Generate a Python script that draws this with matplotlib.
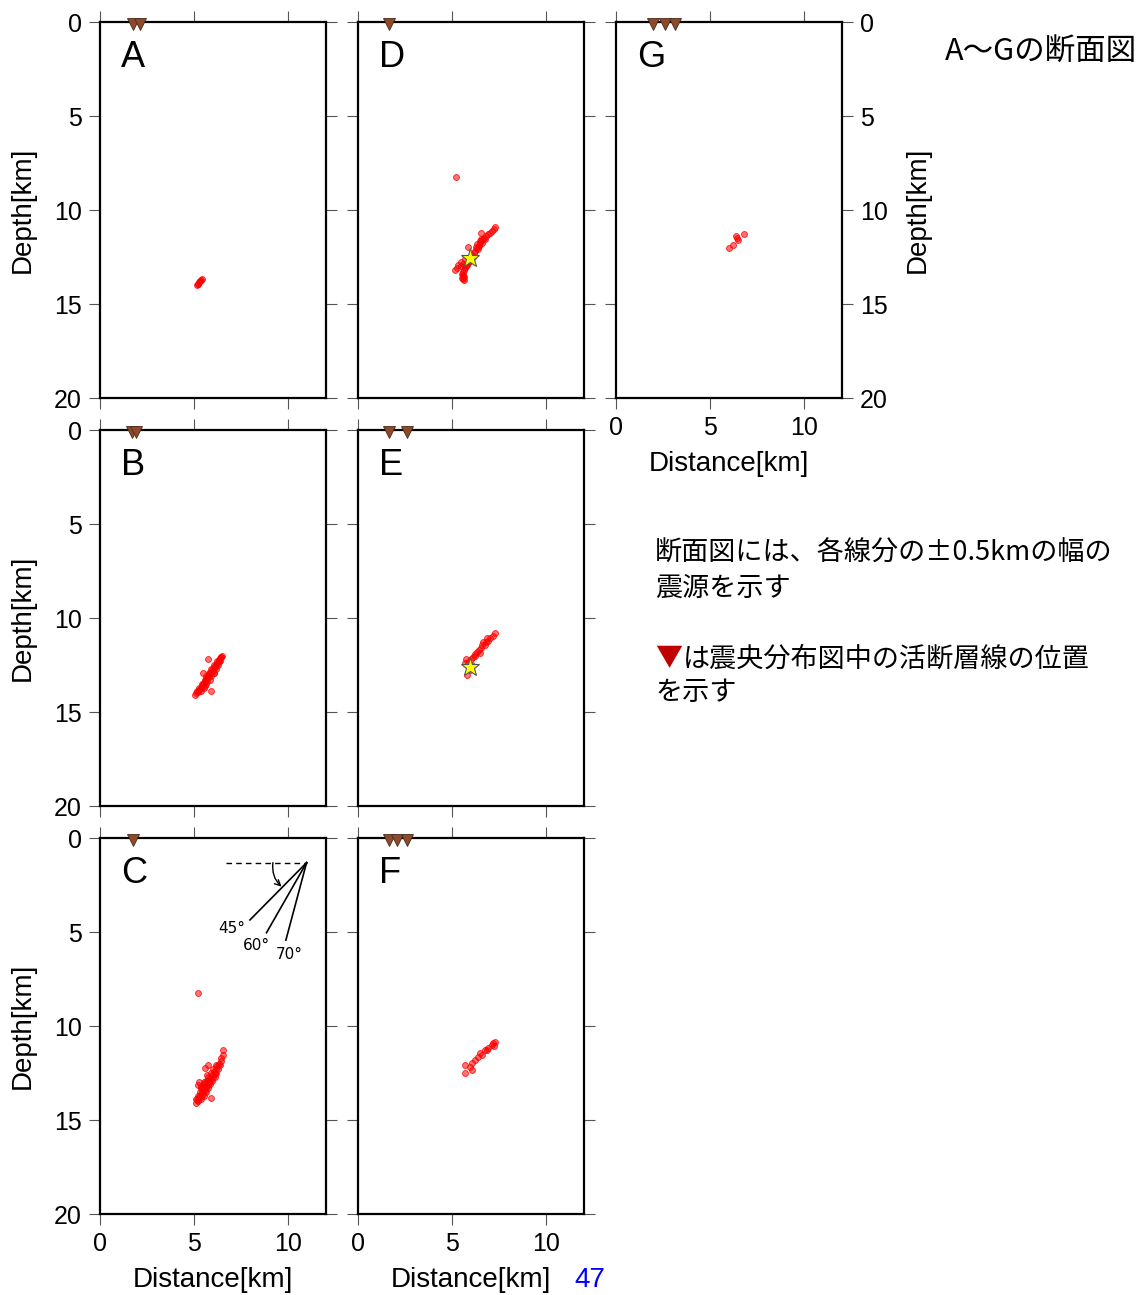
import matplotlib.pyplot as plt

plt.rcParams['font.family'] = ['Liberation Sans', 'Noto Sans CJK JP', 'DejaVu Sans']

# ---------- hypocenters: distance [km], depth [km] ----------
A_x = [5.15, 5.2, 5.25, 5.3, 5.35, 5.22, 5.32, 5.4]
A_d = [13.98, 13.92, 13.85, 13.78, 13.72, 13.95, 13.8, 13.68]

B_x = [5.05, 5.12, 5.2, 5.28, 5.36, 5.4, 5.45, 5.32, 5.55, 5.68, 5.5, 5.8, 5.85, 5.62,
       5.95, 6.0, 5.78, 6.1, 6.15, 5.95, 6.2, 6.25, 6.1, 6.3, 6.32, 6.38, 6.42, 6.45, 6.47,
       5.92, 5.73, 5.47, 5.7, 5.55, 5.88, 6.05,
       5.15, 5.38, 5.28, 5.5, 5.4, 5.65, 5.55, 5.82, 5.65, 5.92, 5.78, 6.05, 5.92, 6.15,
       6.05, 6.25, 6.2, 6.35]
B_d = [14.12, 14.0, 13.95, 13.85, 13.7, 13.6, 13.5, 13.75, 13.35, 13.2, 13.45, 13.1, 12.95,
       13.25, 12.85, 12.7, 13.0, 12.6, 12.5, 12.75, 12.45, 12.35, 12.55, 12.3, 12.25, 12.15,
       12.1, 12.05, 12.0, 13.87, 12.2, 12.9, 13.35, 13.6, 12.95, 12.9,
       13.9, 13.9, 13.7, 13.7, 13.5, 13.5, 13.3, 13.3, 13.1, 13.1, 12.9, 12.9, 12.7, 12.7,
       12.5, 12.5, 12.3, 12.3]

C_x = [6.54, 6.51, 6.45, 6.4, 6.3, 6.22, 6.15, 6.05, 5.95, 6.1, 5.85, 6.0, 5.75, 5.9, 5.65,
       5.8, 5.6, 5.75, 5.5, 5.65, 5.4, 5.55, 5.3, 5.45, 5.25, 5.35, 5.15, 5.09, 5.2, 5.2,
       5.89, 5.57, 5.73, 5.2, 5.5, 5.35, 5.7,
       5.12, 5.35, 5.22, 5.5, 5.3, 5.62, 5.42, 5.75, 5.5, 5.85, 5.62, 5.95, 5.75, 6.08,
       5.9, 6.15, 6.02, 6.25, 6.15, 6.35, 5.28, 5.35]
C_d = [11.28, 11.55, 11.7, 11.85, 12.0, 12.15, 12.3, 12.45, 12.6, 12.55, 12.75, 12.7, 12.9,
       12.85, 13.05, 13.0, 13.2, 13.15, 13.35, 13.3, 13.5, 13.45, 13.65, 13.6, 13.8, 13.75,
       13.95, 14.1, 14.0, 13.14, 13.83, 12.23, 12.07, 8.24, 13.0, 13.3, 12.6,
       13.9, 13.9, 13.7, 13.7, 13.5, 13.5, 13.3, 13.3, 13.1, 13.1, 12.9, 12.9, 12.7, 12.7,
       12.5, 12.5, 12.3, 12.3, 12.1, 12.1, 13.0, 13.2]

D_x = [7.27, 7.2, 7.1, 7.0, 6.9, 6.8, 6.7, 6.6, 6.5, 6.46, 6.4, 6.3, 6.35, 6.2, 6.15, 6.05,
       6.1, 6.0, 5.95, 5.9, 5.85, 5.8, 5.75, 5.7, 5.65, 5.6, 5.55, 5.62, 5.57, 5.5, 5.15,
       5.32, 6.51, 5.85, 5.25, 5.2, 5.45,
       6.55, 6.3, 6.25, 6.45, 5.7, 5.55, 5.45, 5.6, 5.5, 5.62, 6.6, 6.75]
D_d = [10.89, 11.0, 11.1, 11.24, 11.3, 11.4, 11.5, 11.6, 11.65, 11.75, 11.85, 12.0, 12.1,
       12.2, 12.3, 12.4, 12.5, 12.55, 12.7, 12.6, 12.8, 12.9, 13.0, 13.1, 13.2, 13.3, 13.45,
       13.55, 13.65, 13.4, 13.19, 12.93, 11.24, 11.95, 13.1, 8.24, 12.75,
       11.55, 11.8, 11.95, 11.9, 12.6, 12.85, 13.0, 13.5, 13.6, 13.7, 11.75, 11.55]

E_x = [7.27, 7.15, 7.0, 6.9, 6.8, 6.74, 6.65, 6.55, 6.47, 6.3, 6.2, 6.12, 6.0, 5.85, 5.7,
       5.79, 6.05, 5.95, 6.6, 6.4, 6.85, 6.2, 5.75]
E_d = [10.82, 10.95, 11.08, 11.2, 11.3, 11.44, 11.26, 11.6, 11.88, 11.79, 12.0, 12.06,
       12.2, 12.35, 12.41, 13.03, 12.5, 12.75, 11.45, 11.7, 11.05, 11.9, 12.2]

F_x = [7.27, 7.09, 6.91, 6.56, 6.21, 6.03, 5.94, 5.68, 5.68, 6.03, 6.74, 6.38, 7.18, 6.85,
       7.2, 6.5]
F_d = [10.83, 11.01, 11.19, 11.54, 11.81, 11.98, 12.16, 12.52, 12.07, 12.34, 11.28, 11.63,
       10.9, 11.3, 11.05, 11.45]

G_x = [6.0, 6.2, 6.47, 6.37, 6.79, 6.42]
G_d = [12.02, 11.86, 11.6, 11.38, 11.28, 11.5]

# active fault positions on each section [km]
faults = {'A': [1.75, 2.1], 'B': [1.7, 1.9], 'C': [1.75], 'D': [1.64],
          'E': [1.64, 2.6], 'F': [1.64, 2.07, 2.6], 'G': [1.96, 2.6, 3.13]}

# mainshock (distance, depth)
star_D = (5.94, 12.54)
star_E = (5.93, 12.59)

quakes = {'A': (A_x, A_d), 'B': (B_x, B_d), 'C': (C_x, C_d), 'D': (D_x, D_d),
          'E': (E_x, E_d), 'F': (F_x, F_d), 'G': (G_x, G_d)}
stars = {'D': star_D, 'E': star_E}

# ---------- layout (pixel positions of each panel) ----------
W, H = 1145, 1295
aw, ah = 226, 376
corners = {'A': (100, 22), 'B': (100, 430), 'C': (100, 838),
           'D': (358, 22), 'E': (358, 430), 'F': (358, 838), 'G': (616, 22)}

fig = plt.figure(figsize=(W / 100, H / 100), dpi=100)

for name, (px, py) in corners.items():
    ax = fig.add_axes([px / W, 1 - (py + ah) / H, aw / W, ah / H])
    xs, ds = quakes[name]
    ax.scatter(xs, ds, s=18, facecolor=(1, 0, 0, 0.55), edgecolor=(1, 0, 0, 0.85),
               linewidth=0.6, zorder=3)
    if name in stars:
        sx, sd = stars[name]
        ax.plot(sx, sd, marker='*', ms=14, mfc='#ffff00', mec='#555555', mew=0.8, zorder=4)
    ax.plot(faults[name], [0.1] * len(faults[name]), linestyle='none', marker='v', ms=9,
            mfc='#8c4a2a', mec='#4a2a18', mew=0.6, clip_on=False, zorder=5)

    ax.set_xlim(0, 12)
    ax.set_ylim(20, 0)
    ax.set_xticks([0, 5, 10])
    ax.set_yticks([0, 5, 10, 15, 20])
    for sp in ax.spines.values():
        sp.set_linewidth(1.6)
    ax.tick_params(direction='out', length=8, width=0.8, color='#555555', labelsize=18,
                   top=True, right=True, left=True, bottom=True, pad=5,
                   labelleft=name in 'ABC', labelright=name == 'G',
                   labelbottom=name in 'CFG')
    if name in 'ABC':
        ax.set_ylabel('Depth[km]', fontsize=20, labelpad=13)
    if name == 'G':
        ax.yaxis.set_label_position('right')
        ax.set_ylabel('Depth[km]', fontsize=20, labelpad=12)
    if name in 'CFG':
        ax.set_xlabel('Distance[km]', fontsize=20, labelpad=8)
    ax.text(1.1, 1.9, name, fontsize=26, ha='left', va='center')

    if name == 'C':
        # dip angle guide
        ax.plot([6.68, 10.97], [1.31, 1.31], color='black', lw=1, ls=(0, (4, 3)))
        for ex, ed, lab, lx, ld in [(7.96, 4.36, '45°', 7.0, 4.79),
                                    (8.84, 5.04, '60°', 8.33, 5.74),
                                    (9.87, 5.43, '70°', 10.03, 6.22)]:
            ax.plot([10.97, ex], [1.31, ed], color='black', lw=1.2)
            ax.text(lx, ld, lab, fontsize=11, ha='center', va='center',
                    family=['DejaVu Sans'])
        ax.annotate('', xy=(9.64, 2.59), xytext=(9.18, 1.31),
                    arrowprops=dict(arrowstyle='->', lw=1, color='black',
                                    connectionstyle='arc3,rad=0.25', shrinkA=0, shrinkB=0))

# ---------- annotation texts ----------
jp = ['Noto Sans CJK JP', 'DejaVu Sans']
fig.text(945 / W, 1 - 52 / H, 'A～Gの断面図', fontsize=22, family=jp, va='center')
fig.text(655 / W, 1 - 553 / H, '断面図には、各線分の±0.5kmの幅の', fontsize=19.5, family=jp, va='center')
fig.text(655 / W, 1 - 588 / H, '震源を示す', fontsize=19.5, family=jp, va='center')
fig.text(655 / W, 1 - 659 / H, '▼', fontsize=19.5, family=jp, va='center', color='#c00000')
fig.text(683 / W, 1 - 659 / H, 'は震央分布図中の活断層線の位置', fontsize=19.5, family=jp, va='center')
fig.text(655 / W, 1 - 693 / H, 'を示す', fontsize=19.5, family=jp, va='center')
fig.text(574 / W, 1 - 1293 / H, '47', fontsize=20, color='#0000ff', va='bottom')

fig.savefig('out.png', dpi=100)
